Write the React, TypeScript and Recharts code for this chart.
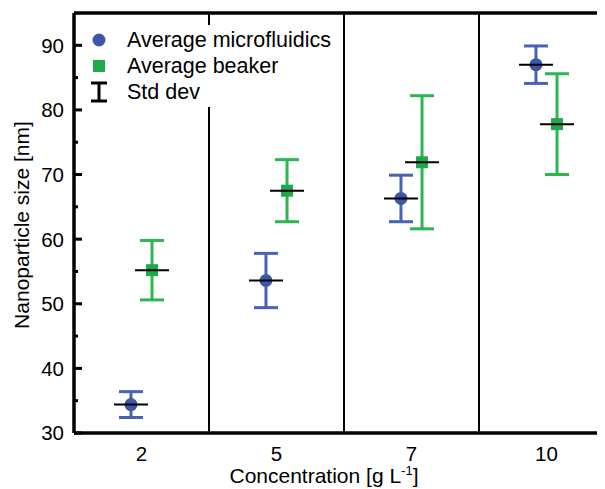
import { ScatterChart, Scatter, XAxis, YAxis, ErrorBar, ReferenceLine, Legend } from 'recharts';

const CONCENTRATIONS = ['2', '5', '7', '10'];
const MICRO_MEAN = [34.4, 53.6, 66.3, 87.0];
const MICRO_SD = [2.0, 4.2, 3.6, 2.9];
const BEAKER_MEAN = [55.2, 67.5, 71.9, 77.8];
const BEAKER_SD = [4.6, 4.8, 10.3, 7.8];
const Y_TICKS = [30, 35, 40, 45, 50, 55, 60, 65, 70, 75, 80, 85, 90];
const SEPARATORS = [0.5, 1.5, 2.5];

const FONT = '"Liberation Sans", Arial, sans-serif';
const BLUE = '#3d57a8';
const BLUE_BAR = '#4862b4';
const GREEN = '#1fa94a';
const GREEN_BAR = '#2bb750';
const OFFSET = 0.078; // side-by-side shift inside each category

const microData = CONCENTRATIONS.map((c, i) => ({ x: i - OFFSET, y: MICRO_MEAN[i], err: MICRO_SD[i], c }));
const beakerData = CONCENTRATIONS.map((c, i) => ({ x: i + OFFSET, y: BEAKER_MEAN[i], err: BEAKER_SD[i], c }));

// eslint-disable-next-line @typescript-eslint/no-explicit-any
const CircleMark = (p: any) => (
  <g>
    <circle cx={p.cx} cy={p.cy} r={6.5} fill={BLUE} />
    <line x1={p.cx - 17} x2={p.cx + 17} y1={p.cy} y2={p.cy} stroke="#000" strokeWidth={2} />
  </g>
);

// eslint-disable-next-line @typescript-eslint/no-explicit-any
const SquareMark = (p: any) => (
  <g>
    <rect x={p.cx - 6} y={p.cy - 6} width={12} height={12} fill={GREEN} />
    <line x1={p.cx - 17} x2={p.cx + 17} y1={p.cy} y2={p.cy} stroke="#000" strokeWidth={2} />
  </g>
);

// eslint-disable-next-line @typescript-eslint/no-explicit-any
function YTick({ x, y, payload }: any) {
  const major = payload.value % 10 === 0;
  return (
    <g>
      <line x1={x} x2={x + (major ? 8 : 4)} y1={y} y2={y} stroke="#000" strokeWidth={3} />
      {major && (
        <text x={x - 10} y={y} dy="0.36em" textAnchor="end" fontSize={20.5} fill="#000" fontFamily={FONT}>
          {payload.value}
        </text>
      )}
    </g>
  );
}

function LegendBox() {
  const row = { display: 'flex', alignItems: 'center', height: 26 } as const;
  const icon = { width: 42, display: 'flex', justifyContent: 'flex-start' } as const;
  return (
    <div style={{ background: '#fff', width: 256, padding: '2px 0', fontFamily: FONT, fontSize: 21.5, color: '#000' }}>
      <div style={row}>
        <div style={icon}>
          <svg width={32} height={20}>
            <circle cx={14} cy={10} r={6.5} fill={BLUE} />
          </svg>
        </div>
        <span>Average microfluidics</span>
      </div>
      <div style={row}>
        <div style={icon}>
          <svg width={32} height={20}>
            <rect x={8} y={4} width={12} height={12} fill={GREEN} />
          </svg>
        </div>
        <span>Average beaker</span>
      </div>
      <div style={row}>
        <div style={icon}>
          <svg width={32} height={24}>
            <line x1={14} x2={14} y1={3} y2={21} stroke="#000" strokeWidth={3} />
            <line x1={6} x2={22} y1={3} y2={3} stroke="#000" strokeWidth={3} />
            <line x1={6} x2={22} y1={21} y2={21} stroke="#000" strokeWidth={3} />
          </svg>
        </div>
        <span>Std dev</span>
      </div>
    </div>
  );
}

export default function App() {
  return (
    <div style={{ width: 597, height: 481, overflow: 'hidden', position: 'relative', fontFamily: FONT }}>
      <ScatterChart width={640} height={481} margin={{ top: 5, right: 34, bottom: 0, left: 0 }}>
        <XAxis
          type="number"
          dataKey="x"
          domain={[-0.5, 3.5]}
          ticks={[0, 1, 2, 3]}
          tickFormatter={(v: number) => CONCENTRATIONS[v] ?? ''}
          allowDataOverflow
          height={56}
          axisLine={{ stroke: '#000', strokeWidth: 3.5 }}
          tickLine={false}
          tickSize={0}
          tickMargin={13}
          tick={{ fontSize: 20.5, fill: '#000', fontFamily: FONT }}
          label={{
            // eslint-disable-next-line @typescript-eslint/no-explicit-any
            content: ({ viewBox }: any) => (
              <text x={viewBox.x + 250} y={viewBox.y + 50} textAnchor="middle" fontSize={21} fill="#000" fontFamily={FONT}>
                Concentration [g L
                <tspan fontSize={13} dy={-8}>-1</tspan>
                <tspan dy={8}>]</tspan>
              </text>
            ),
          }}
        />
        <YAxis
          type="number"
          dataKey="y"
          domain={[30, 95]}
          ticks={Y_TICKS}
          allowDataOverflow
          width={66}
          axisLine={{ stroke: '#000', strokeWidth: 3.5 }}
          tickLine={false}
          tickSize={0}
          tickMargin={0}
          tick={<YTick />}
          label={{
            // eslint-disable-next-line @typescript-eslint/no-explicit-any
            content: ({ viewBox }: any) => {
              const cx = 21;
              const cy = viewBox.y + viewBox.height / 2 + 2;
              return (
                <text x={cx} y={cy} transform={`rotate(-90 ${cx} ${cy})`} textAnchor="middle" fontSize={21} fill="#000" fontFamily={FONT}>
                  Nanoparticle size [nm]
                </text>
              );
            },
          }}
        />
        <ReferenceLine y={95} stroke="#000" strokeWidth={3.5} />
        {SEPARATORS.map((s) => (
          <ReferenceLine key={s} x={s} stroke="#000" strokeWidth={2} />
        ))}
        <Scatter name="Average microfluidics" data={microData} shape={CircleMark} isAnimationActive={false}>
          <ErrorBar dataKey="err" direction="y" width={12} stroke={BLUE_BAR} strokeWidth={3} />
        </Scatter>
        <Scatter name="Average beaker" data={beakerData} shape={SquareMark} isAnimationActive={false}>
          <ErrorBar dataKey="err" direction="y" width={12} stroke={GREEN_BAR} strokeWidth={3} />
        </Scatter>
        <Legend
          layout="vertical"
          align="center"
          verticalAlign="middle"
          wrapperStyle={{ left: 77, top: 17, width: 256 }}
          content={() => <LegendBox />}
        />
      </ScatterChart>
    </div>
  );
}
